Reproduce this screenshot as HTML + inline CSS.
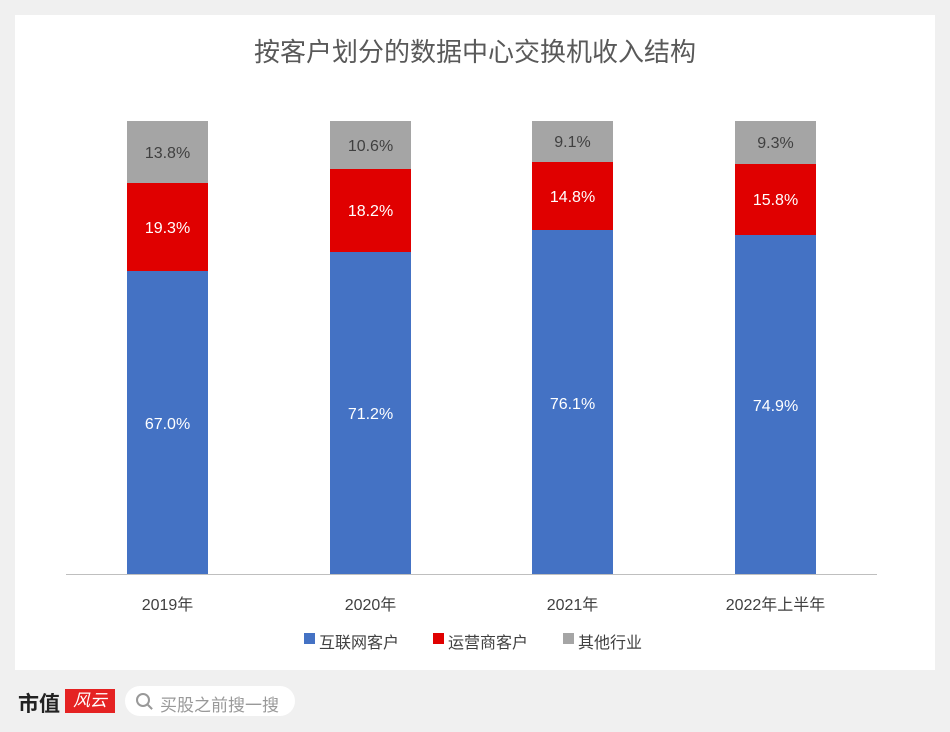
<!DOCTYPE html>
<html><head><meta charset="utf-8"><style>
body{margin:0;width:950px;height:732px;background:#f0f0f0;position:relative;overflow:hidden;font-family:"Liberation Sans","Noto Sans CJK SC",sans-serif}
.panel{position:absolute;left:15px;top:15px;width:920px;height:655px;background:#fff}
.t{position:absolute;white-space:nowrap}
.bar{position:absolute;width:81px}
.lbl{position:absolute;width:81px;text-align:center;font-size:16px}
</style></head><body>
<div class="panel"></div>
<div class="t" style="left:0;width:950px;text-align:center;top:32px;font-size:26px;color:#595959">按客户划分的数据中心交换机收入结构</div>

<div class="bar" style="left:127px;top:121px;height:62px;background:#a5a5a5"></div>
<div class="bar" style="left:127px;top:183px;height:88px;background:#e00000"></div>
<div class="bar" style="left:127px;top:271px;height:303px;background:#4472c4"></div>
<div class="lbl" style="left:127px;top:145px;color:#404040">13.8%</div>
<div class="lbl" style="left:127px;top:220px;color:#fff">19.3%</div>
<div class="lbl" style="left:127px;top:416px;color:#fff">67.0%</div>

<div class="bar" style="left:330px;top:121px;height:48px;background:#a5a5a5"></div>
<div class="bar" style="left:330px;top:169px;height:83px;background:#e00000"></div>
<div class="bar" style="left:330px;top:252px;height:322px;background:#4472c4"></div>
<div class="lbl" style="left:330px;top:138px;color:#404040">10.6%</div>
<div class="lbl" style="left:330px;top:203px;color:#fff">18.2%</div>
<div class="lbl" style="left:330px;top:406px;color:#fff">71.2%</div>

<div class="bar" style="left:532px;top:121px;height:41px;background:#a5a5a5"></div>
<div class="bar" style="left:532px;top:162px;height:68px;background:#e00000"></div>
<div class="bar" style="left:532px;top:230px;height:344px;background:#4472c4"></div>
<div class="lbl" style="left:532px;top:134px;color:#404040">9.1%</div>
<div class="lbl" style="left:532px;top:189px;color:#fff">14.8%</div>
<div class="lbl" style="left:532px;top:396px;color:#fff">76.1%</div>

<div class="bar" style="left:735px;top:121px;height:43px;background:#a5a5a5"></div>
<div class="bar" style="left:735px;top:164px;height:71px;background:#e00000"></div>
<div class="bar" style="left:735px;top:235px;height:339px;background:#4472c4"></div>
<div class="lbl" style="left:735px;top:135px;color:#404040">9.3%</div>
<div class="lbl" style="left:735px;top:192px;color:#fff">15.8%</div>
<div class="lbl" style="left:735px;top:398px;color:#fff">74.9%</div>

<div style="position:absolute;left:66px;top:574px;width:811px;height:1px;background:#bfbfbf"></div>
<div class="t" style="left:117px;width:101px;text-align:center;top:591px;font-size:16px;color:#404040">2019年</div>
<div class="t" style="left:320px;width:101px;text-align:center;top:591px;font-size:16px;color:#404040">2020年</div>
<div class="t" style="left:522px;width:101px;text-align:center;top:591px;font-size:16px;color:#404040">2021年</div>
<div class="t" style="left:705px;width:141px;text-align:center;top:591px;font-size:16px;color:#404040">2022年上半年</div>

<div style="position:absolute;left:304px;top:633px;width:11px;height:11px;background:#4472c4"></div>
<div class="t" style="left:319px;top:629px;font-size:16px;color:#404040">互联网客户</div>
<div style="position:absolute;left:433px;top:633px;width:11px;height:11px;background:#e00000"></div>
<div class="t" style="left:448px;top:629px;font-size:16px;color:#404040">运营商客户</div>
<div style="position:absolute;left:563px;top:633px;width:11px;height:11px;background:#a5a5a5"></div>
<div class="t" style="left:578px;top:629px;font-size:16px;color:#404040">其他行业</div>

<div class="t" style="left:18px;top:688px;font-size:21px;font-weight:bold;color:#222">市值</div>
<div style="position:absolute;left:65px;top:689px;width:50px;height:24px;background:#e52222;color:#fff;font-size:17px;line-height:24px;text-align:center;font-style:italic">风云</div>
<div style="position:absolute;left:125px;top:686px;width:170px;height:30px;border-radius:15px;background:#fff"></div>
<div style="position:absolute;left:136px;top:693px;width:10px;height:10px;border:2px solid #999;border-radius:50%"></div>
<div style="position:absolute;left:147px;top:706px;width:6px;height:2px;background:#999;transform:rotate(45deg)"></div>
<div class="t" style="left:160px;top:691px;font-size:17px;color:#999">买股之前搜一搜</div>
</body></html>
